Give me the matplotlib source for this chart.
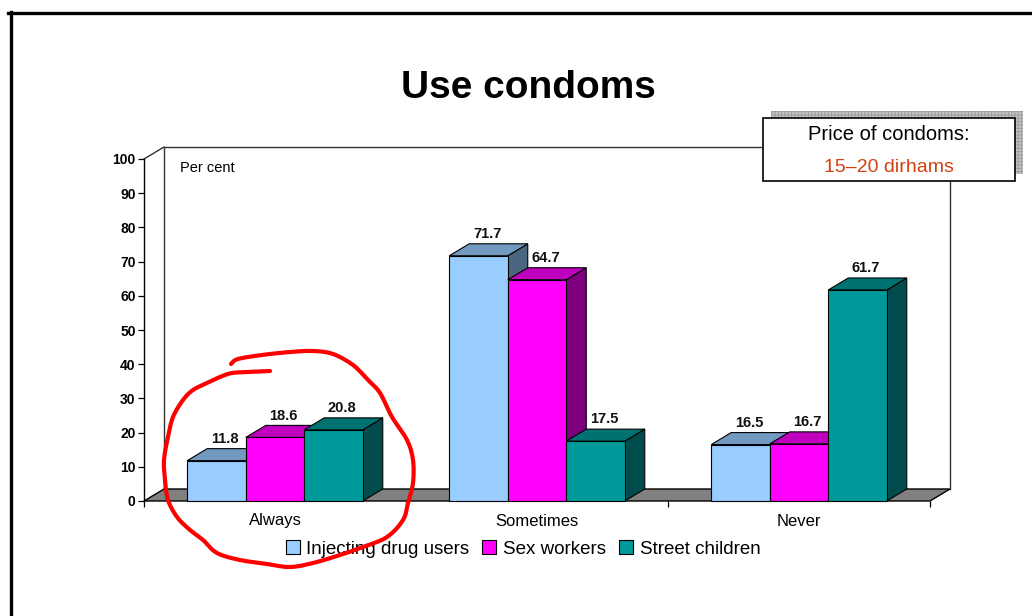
import matplotlib
matplotlib.use('Agg')
import numpy as np
import matplotlib.pyplot as plt
from matplotlib.patches import Polygon, Rectangle, Patch
from matplotlib.lines import Line2D

# ---------------- data ----------------
categories = ['Always', 'Sometimes', 'Never']
series_names = ['Injecting drug users', 'Sex workers', 'Street children']
idu = [11.8, 71.7, 16.5]
sex_workers = [18.6, 64.7, 16.7]
street_children = [20.8, 17.5, 61.7]
y_ticks = list(range(0, 101, 10))
title_text = 'Use condoms'
axis_note = 'Per cent'
box_line1 = 'Price of condoms:'
box_line2 = '15\u201320 dirhams'

front_colors = ['#99CCFF', '#FF00FF', '#009999']

# hand-drawn red loop around "Always" (figure pixel coordinates, from top-left)
red_loop = [(231, 364), (238, 359), (262, 355), (290, 352), (313, 351), (333, 354),
            (353, 365), (368, 380), (380, 393), (392, 417), (407, 440), (413, 460),
            (413, 483), (408, 503), (403, 520), (387, 537), (363, 547), (340, 555),
            (313, 563), (290, 567), (267, 564), (240, 560), (217, 553), (203, 540),
            (190, 530), (177, 517), (168, 500), (165, 480), (164, 460), (168, 437),
            (173, 417), (183, 400), (193, 390), (207, 383), (220, 377), (232, 373),
            (250, 372), (270, 371)]

plt.rcParams['font.family'] = ['Liberation Sans', 'DejaVu Sans']
plt.rcParams['hatch.linewidth'] = 0.6

W, H = 1032, 616
fig = plt.figure(figsize=(W / 100, H / 100), dpi=100)
fig.patch.set_facecolor('white')


def fpx(x, y):
    return (x / W, 1 - y / H)


ax = fig.add_axes([144 / W, (H - 501) / H, 786 / W, 342 / H])
ax.set_xlim(0, 3)
ax.set_ylim(0, 100)
ax.patch.set_visible(False)
for s in ['top', 'right', 'bottom']:
    ax.spines[s].set_visible(False)
ax.spines['left'].set_linewidth(1.0)
ax.spines['left'].set_zorder(50)

# depth offsets in data units
ddx = 20 / 786 * 3
ddy = 12 / 342 * 100
ncat = len(categories)

# floor
floor = Polygon([(0, 0), (ncat, 0), (ncat + ddx, ddy), (ddx, ddy)], closed=True,
                facecolor='#808080', edgecolor='black', lw=1.0, clip_on=False, zorder=1)
ax.add_patch(floor)
# back wall
ax.plot([ddx, ddx, ncat + ddx, ncat + ddx], [ddy, 100 + ddy, 100 + ddy, ddy],
        color='#333333', lw=1.0, clip_on=False, zorder=0.5)
ax.plot([0, ddx], [100, 100 + ddy], color='#333333', lw=1.0, clip_on=False, zorder=0.5)


def shade(hexc, f):
    hexc = hexc.lstrip('#')
    r, g, b = (int(hexc[i:i + 2], 16) for i in (0, 2, 4))
    return '#%02x%02x%02x' % (int(r * f), int(g * f), int(b * f))


series = [idu, sex_workers, street_children]
bw = 58.5 / 262
z = 2
for i in range(ncat):
    for j, vals in enumerate(series):
        h = vals[i]
        x0 = i + 0.5 - 1.5 * bw + j * bw
        x1 = x0 + bw
        c = front_colors[j]
        side = Polygon([(x1, 0), (x1 + ddx, ddy), (x1 + ddx, h + ddy), (x1, h)],
                       facecolor=shade(c, 0.5), edgecolor='black', lw=0.8,
                       clip_on=False, zorder=z)
        top = Polygon([(x0, h), (x1, h), (x1 + ddx, h + ddy), (x0 + ddx, h + ddy)],
                      facecolor=shade(c, 0.75), edgecolor='black', lw=0.8,
                      clip_on=False, zorder=z)
        front = Rectangle((x0, 0), bw, h, facecolor=c, edgecolor='black', lw=0.8,
                          clip_on=False, zorder=z + 0.5)
        ax.add_patch(side)
        ax.add_patch(top)
        ax.add_patch(front)
        ax.annotate(f'{h:.1f}', xy=(x0 + bw / 2 + ddx / 2, h + ddy), xytext=(-1, 2),
                    textcoords='offset points', ha='center', va='bottom',
                    fontsize=10.5, fontweight='bold', color='#111111', zorder=40)
        z += 1

# axes ticks
ax.set_yticks(y_ticks)
ax.set_yticklabels([str(t) for t in y_ticks], fontweight='bold')
ax.tick_params(axis='y', length=4.5, width=0.9, pad=1.5, labelsize=10, direction='out')
ax.set_xticks([k + 0.5 for k in range(ncat)])
ax.set_xticklabels(categories)
ax.tick_params(axis='x', which='major', length=0, pad=9, labelsize=12)
ax.set_xticks(list(range(ncat + 1)), minor=True)
ax.tick_params(axis='x', which='minor', length=4.5, width=0.9, direction='out')

ax.text((180 - 144) / 262, (501 - 168) / 3.42, axis_note, fontsize=10.5,
        ha='left', va='center', zorder=40)

# title
fig.text(*fpx(528, 88), title_text, ha='center', va='center', fontsize=28,
         fontweight='bold')

# price text box with hatched shadow
bx0, by0, bx1, by1 = 763, 118, 1015, 181
shadow = Rectangle(fpx(bx0 + 8, by1 - 7), (bx1 - bx0) / W, (by1 - by0) / H,
                   transform=fig.transFigure, facecolor='#c4c4c4', edgecolor='#9a9a9a',
                   hatch='+++++', lw=0, zorder=60)
fig.add_artist(shadow)
box = Rectangle(fpx(bx0, by1), (bx1 - bx0) / W, (by1 - by0) / H,
                transform=fig.transFigure, facecolor='white', edgecolor='black',
                lw=1.2, zorder=61)
fig.add_artist(box)
fig.text(*fpx(889, 135), box_line1, ha='center', va='center', fontsize=14.5,
         color='black', zorder=62)
fig.text(*fpx(889, 167), box_line2, ha='center', va='center', fontsize=14,
         color='#D4400F', zorder=62)

# legend
handles = [Patch(facecolor=c, edgecolor='black', lw=0.8) for c in front_colors]
fig.legend(handles, series_names, loc='center', bbox_to_anchor=fpx(523, 549),
           ncol=3, frameon=False, fontsize=13.5, handlelength=0.75, handleheight=0.75,
           handletextpad=0.35, columnspacing=0.7, borderaxespad=0)

# slide border
fig.add_artist(Line2D([8 / W, 1.0], [1 - 12.5 / H] * 2, transform=fig.transFigure,
                      color='black', lw=2.4))
fig.add_artist(Line2D([11 / W] * 2, [1 - 12 / H, 0], transform=fig.transFigure,
                      color='black', lw=2.4))


# red hand-drawn loop, smoothed with a Catmull-Rom spline
def catmull_rom(pts, n=8):
    P = np.array(pts, dtype=float)
    P = np.vstack([P[0], P, P[-1]])
    out = []
    for k in range(1, len(P) - 2):
        p0, p1, p2, p3 = P[k - 1], P[k], P[k + 1], P[k + 2]
        for t in np.linspace(0, 1, n, endpoint=False):
            t2, t3 = t * t, t * t * t
            out.append(0.5 * ((2 * p1) + (-p0 + p2) * t +
                              (2 * p0 - 5 * p1 + 4 * p2 - p3) * t2 +
                              (-p0 + 3 * p1 - 3 * p2 + p3) * t3))
    out.append(P[-2])
    return np.array(out)


loop = catmull_rom(red_loop)
fig.add_artist(Line2D(loop[:, 0] / W, 1 - loop[:, 1] / H, transform=fig.transFigure,
                      color='#FF0000', lw=3, solid_joinstyle='round',
                      solid_capstyle='round', zorder=100))

fig.savefig('out.png', dpi=100, facecolor='white')
